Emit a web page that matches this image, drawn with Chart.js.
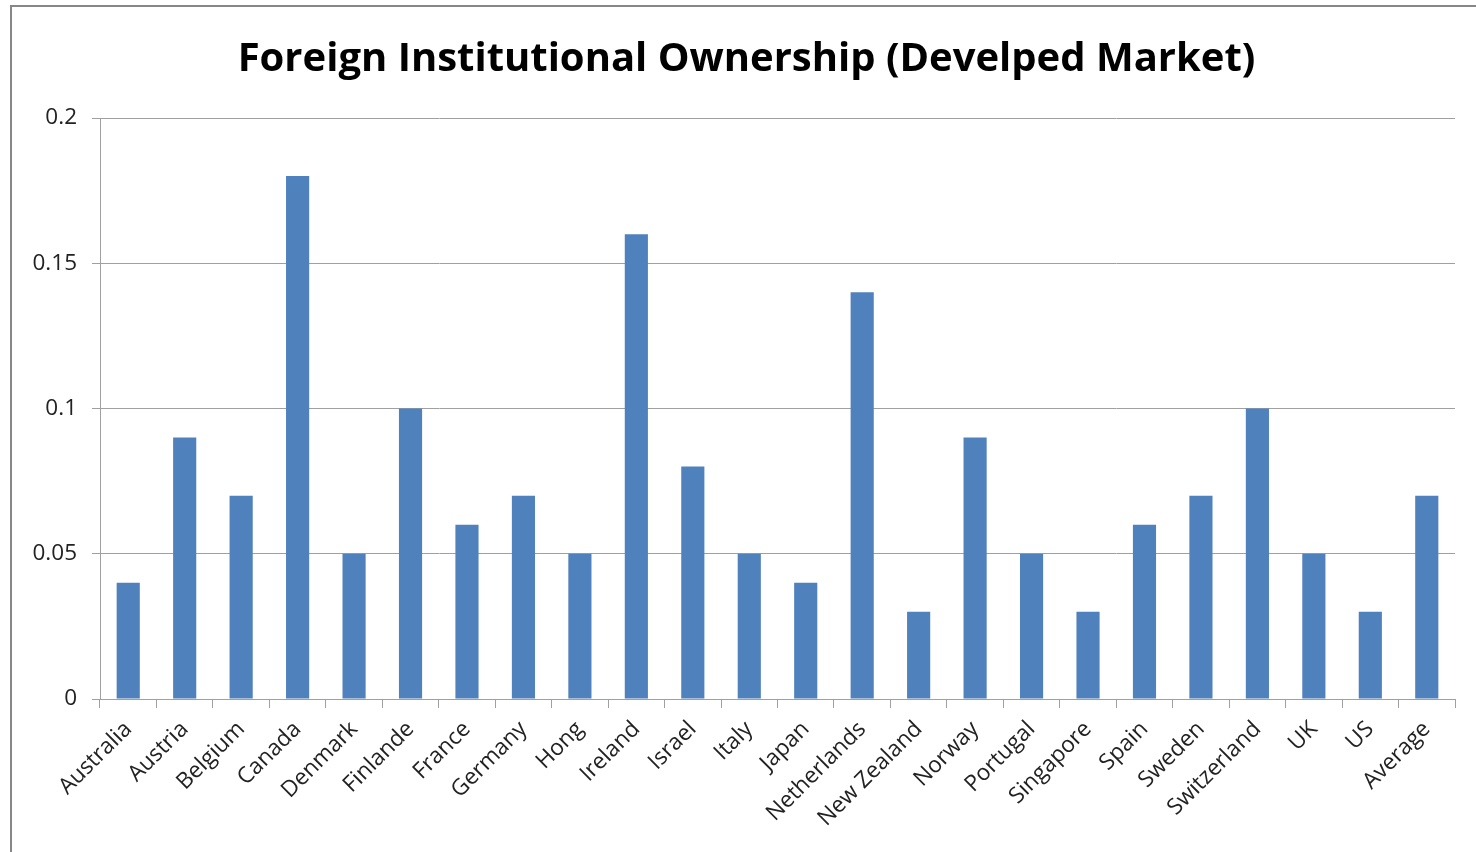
<!DOCTYPE html>
<html lang="en">
<head>
  <meta charset="UTF-8">
  <title>Foreign Institutional Ownership</title>
  <script src="https://cdn.jsdelivr.net/npm/chart.js"></script>
  <style>
    html, body {
      margin: 0;
      padding: 0;
      background: #fff;
      overflow: hidden;
    }
    #frame {
      position: absolute;
      left: 10px;
      top: 5px;
      width: 1500px;
      height: 900px;
      border: 2px solid #878787;
      box-sizing: border-box;
    }
    #wrap {
      position: absolute;
      left: 0;
      top: 0;
      width: 1476px;
      height: 852px;
    }
  </style>
</head>
<body>
  <div id="frame"></div>
  <div id="wrap"><canvas id="chart"></canvas></div>

  <script>
    const countries = ['Australia', 'Austria', 'Belgium', 'Canada', 'Denmark', 'Finlande', 'France',
      'Germany', 'Hong', 'Ireland', 'Israel', 'Italy', 'Japan', 'Netherlands', 'New Zealand',
      'Norway', 'Portugal', 'Singapore', 'Spain', 'Sweden', 'Switzerland', 'UK', 'US', 'Average'];
    const ownership = [0.04, 0.09, 0.07, 0.18, 0.05, 0.10, 0.06,
      0.07, 0.05, 0.16, 0.08, 0.05, 0.04, 0.14, 0.03,
      0.09, 0.05, 0.03, 0.06, 0.07, 0.10, 0.05, 0.03, 0.07];
    const yTicks = [0, 0.05, 0.1, 0.15, 0.2];
    const yTickLabels = ['0', '0.05', '0.1', '0.15', '0.2'];

    const tickFont = { family: 'Open Sans', size: 22.5 };

    // title sits a bit right of the canvas centre in the original
    const shiftTitle = {
      id: 'shiftTitle',
      afterLayout(chart) {
        if (chart.titleBlock) chart.titleBlock.left = 38;
      }
    };

    new Chart(document.getElementById('chart').getContext('2d'), {
      type: 'bar',
      data: {
        labels: countries,
        datasets: [{
          label: 'Foreign Institutional Ownership',
          data: ownership,
          backgroundColor: '#4f81bd',
          barPercentage: 0.41,
          categoryPercentage: 1
        }]
      },
      plugins: [shiftTitle],
      options: {
        responsive: true,
        maintainAspectRatio: false,
        animation: false,
        layout: { padding: { left: 0, right: 21, top: 0, bottom: 0 } },
        plugins: {
          legend: { display: false },
          tooltip: { enabled: false },
          title: {
            display: true,
            text: 'Foreign Institutional Ownership (Develped Market)',
            color: '#000',
            font: { family: 'Open Sans', size: 40, weight: 'bold', lineHeight: 1.2 },
            padding: { top: 36, bottom: 34 }
          }
        },
        scales: {
          x: {
            grid: { drawOnChartArea: false, drawTicks: true, tickLength: 9, color: '#a0a0a0' },
            border: { color: '#a0a0a0', width: 1 },
            ticks: { color: '#222', font: tickFont, maxRotation: 45, minRotation: 45, autoSkip: false, padding: 8 },
            afterFit: s => { s.height = 153; }
          },
          y: {
            min: 0,
            max: 0.2,
            afterBuildTicks: s => { s.ticks = yTicks.map(v => ({ value: v })); },
            grid: { color: '#a0a0a0', tickLength: 8 },
            border: { color: '#a0a0a0', width: 1 },
            ticks: {
              color: '#222',
              font: tickFont,
              padding: 15,
              callback: v => yTickLabels[yTicks.indexOf(v)]
            },
            afterFit: s => { s.width = 100; }
          }
        }
      }
    });
  </script>
</body>
</html>
